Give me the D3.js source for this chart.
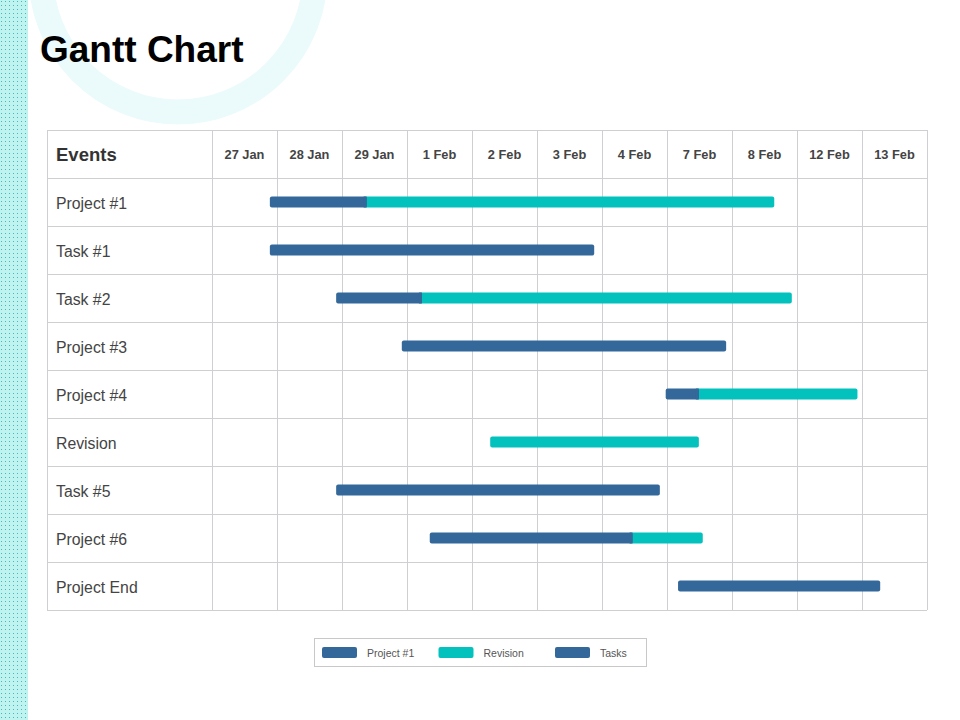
<!DOCTYPE html>
<html>
<head>
<meta charset="utf-8">
<script src="https://cdn.jsdelivr.net/npm/d3@7"></script>
<style>
  body { margin: 0; background: #fff; }
  svg { display: block; font-family: "Liberation Sans", Arial, sans-serif; }
</style>
</head>
<body>
<svg id="chart" width="960" height="720"></svg>
<script>
// ---------- data ----------
const dates = ["27 Jan","28 Jan","29 Jan","1 Feb","2 Feb","3 Feb","4 Feb","7 Feb","8 Feb","12 Feb","13 Feb"];
const events = ["Project #1","Task #1","Task #2","Project #3","Project #4","Revision","Task #5","Project #6","Project End"];
// positions in column units (0 = start of "27 Jan", 11 = end of "13 Feb")
const taskStart     = [0.89, 0.89, 1.91, 2.92, 6.98, null, 1.91, 3.35, 7.17];
const taskEnd       = [2.38, 5.88, 3.23, 7.91, 7.49, null, 6.89, 6.47, 10.28];
const revisionStart = [2.38, null, 3.23, null, 7.49, 4.28, null, 6.47, null];
const revisionEnd   = [8.65, null, 8.92, null, 9.93, 7.49, null, 7.55, null];
const legendLabels  = ["Project #1","Revision","Tasks"];

const DARK = "#34689a";
const TEAL = "#03c1bd";
const GRID = "#cfcfd3";
const legendColors = [DARK, TEAL, DARK];

const svg = d3.select("#chart");

// ---------- background ----------
const defs = svg.append("defs");
const pat = defs.append("pattern")
  .attr("id","dots")
  .attr("width",4).attr("height",4)
  .attr("patternUnits","userSpaceOnUse");
pat.append("rect").attr("width",4).attr("height",4).attr("fill","#bff3f0");
pat.append("rect").attr("x",1).attr("y",1).attr("width",1).attr("height",1).attr("fill","#45b8b8");

svg.append("circle")
  .attr("cx",178).attr("cy",-25).attr("r",137)
  .attr("fill","none")
  .attr("stroke","#ebfafb")
  .attr("stroke-width",25);

svg.append("rect")
  .attr("x",0).attr("y",0).attr("width",28).attr("height",720)
  .attr("fill","url(#dots)");

svg.append("text")
  .attr("x",40).attr("y",62)
  .attr("font-size",37).attr("font-weight","bold")
  .attr("fill","#000")
  .text("Gantt Chart");

// ---------- table ----------
const tableLeft = 47, labelRight = 212, tableRight = 927;
const tableTop = 130, rowH = 48;

const x = d3.scaleLinear().domain([0, dates.length]).range([labelRight, tableRight]);
const y = d3.scaleBand()
  .domain(["header", ...events])
  .range([tableTop, tableTop + rowH * (events.length + 1)]);

const grid = svg.append("g");
// horizontal lines
y.domain().forEach(d => {
  grid.append("line")
    .attr("x1",tableLeft).attr("x2",tableRight)
    .attr("y1",y(d)+0.5).attr("y2",y(d)+0.5)
    .attr("stroke",GRID);
});
grid.append("line")
  .attr("x1",tableLeft).attr("x2",tableRight)
  .attr("y1",y.range()[1]+0.5).attr("y2",y.range()[1]+0.5)
  .attr("stroke",GRID);
// vertical lines
[tableLeft, ...d3.range(dates.length + 1).map(i => x(i))].forEach(px => {
  grid.append("line")
    .attr("x1",px+0.5).attr("x2",px+0.5)
    .attr("y1",y.range()[0]).attr("y2",y.range()[1])
    .attr("stroke",GRID);
});

// header
svg.append("text")
  .attr("x",56).attr("y",y("header")+y.bandwidth()/2)
  .attr("dominant-baseline","central")
  .attr("font-size",18.5).attr("font-weight","bold")
  .attr("fill","#333")
  .text("Events");

svg.append("g").selectAll("text")
  .data(dates)
  .join("text")
  .attr("x",(d,i) => x(i+0.5))
  .attr("y",y("header")+y.bandwidth()/2)
  .attr("text-anchor","middle")
  .attr("dominant-baseline","central")
  .attr("font-size",12.8).attr("font-weight","bold")
  .attr("fill","#444")
  .text(d => d);

svg.append("g").selectAll("text")
  .data(events)
  .join("text")
  .attr("x",56)
  .attr("y",d => y(d)+y.bandwidth()/2+1)
  .attr("dominant-baseline","central")
  .attr("font-size",15.8)
  .attr("fill","#444")
  .text(d => d);

// ---------- bars ----------
const BAR_H = 11;
const bars = svg.append("g");
events.forEach((ev,i) => {
  const cy = y(ev) + y.bandwidth()/2;
  // revision (teal) first, then task (dark) on top
  if (revisionStart[i] != null) {
    const left = taskStart[i] != null ? x(revisionStart[i]) - 3 : x(revisionStart[i]);
    bars.append("rect")
      .attr("x",left).attr("y",cy-BAR_H/2)
      .attr("width",x(revisionEnd[i]) - left).attr("height",BAR_H)
      .attr("rx",2).attr("fill",TEAL);
  }
  if (taskStart[i] != null) {
    bars.append("rect")
      .attr("x",x(taskStart[i])).attr("y",cy-BAR_H/2)
      .attr("width",x(taskEnd[i]) - x(taskStart[i])).attr("height",BAR_H)
      .attr("rx",2).attr("fill",DARK);
    if (revisionStart[i] != null) {
      // square off the join
      bars.append("rect")
        .attr("x",x(taskEnd[i])-3).attr("y",cy-BAR_H/2)
        .attr("width",3).attr("height",BAR_H)
        .attr("fill",DARK);
    }
  }
});

// ---------- legend ----------
const legend = svg.append("g").attr("transform","translate(314,638)");
legend.append("rect")
  .attr("x",0.5).attr("y",0.5).attr("width",332).attr("height",28)
  .attr("fill","#fff").attr("stroke","#c8c8c8");
const items = legend.selectAll("g.item")
  .data(legendLabels)
  .join("g")
  .attr("class","item")
  .attr("transform",(d,i) => `translate(${8 + i*116.5},9)`);
items.append("rect")
  .attr("width",35).attr("height",11).attr("rx",2)
  .attr("fill",(d,i) => legendColors[i]);
items.append("text")
  .attr("x",45).attr("y",5.5)
  .attr("dominant-baseline","central")
  .attr("font-size",10.5)
  .attr("fill","#555")
  .text(d => d);
</script>
</body>
</html>
